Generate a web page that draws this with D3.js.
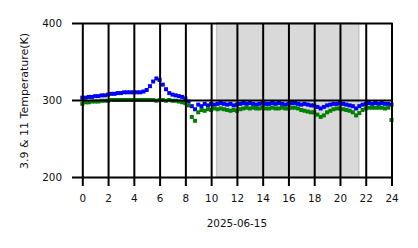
<!DOCTYPE html>
<html>
<head>
<meta charset="utf-8">
<style>
  body { margin: 0; background: #fff; }
  text { font-family: "DejaVu Sans", sans-serif; font-size: 10.4px; fill: #111; }
</style>
<script src="https://cdn.jsdelivr.net/npm/d3@7"></script>
</head>
<body>
<script>
// hours, every 15 minutes
var hours = d3.range(0, 24.001, 0.25);
var blueTemp = [303,303,304,304,305,305,306,306,307,308,308,309,309,310,310,310,
  310,310,310,311,313,318,324,328,326,320,314,309,307,306,305,304,
  302,298,292,288,294,292,295,293,295,294,295,296,295,294,295,293,
  294,295,296,295,296,295,294,295,296,295,295,296,295,296,295,294,
  295,296,296,295,294,295,294,293,293,291,289,291,293,294,295,295,
  296,295,294,293,292,289,292,294,295,296,295,296,295,296,295,295,294];
var greenTemp = [295,297,297,298,298,298,299,299,299,300,300,300,300,300,300,300,
  300,300,300,300,300,300,300,299,300,300,299,300,299,299,298,297,
  296,293,278,273,284,287,286,288,287,289,288,289,288,287,286,287,
  286,288,289,290,289,290,289,289,290,289,289,290,289,289,290,289,
  289,290,290,289,287,286,285,284,284,281,278,280,284,286,288,289,
  289,288,287,286,284,280,283,287,289,290,290,290,290,290,289,290,274];
var shade = [10.43, 21.46];
var xTicks = d3.range(0, 25, 2);
var yTicks = [200, 300, 400];

var W = 418, H = 248;
var x = d3.scaleLinear().domain([0, 24]).range([82.3, 391.5]);
var y = d3.scaleLinear().domain([200, 400]).range([177, 23]);

var svg = d3.select("body").append("svg").attr("width", W).attr("height", H);

svg.append("rect")
  .attr("x", x(shade[0])).attr("y", y(400))
  .attr("width", x(shade[1]) - x(shade[0])).attr("height", y(200) - y(400))
  .attr("fill", "#d9d9d9").attr("stroke", "#c6c6c6").attr("stroke-width", 1.5);

function plotSeries(vals, color) {
  svg.append("g").selectAll("rect")
    .data(vals)
    .enter().append("rect")
    .attr("x", function(d, i) { return x(hours[i]) - 2; })
    .attr("y", function(d) { return y(d) - 2; })
    .attr("width", 4).attr("height", 4)
    .attr("fill", color);
}
plotSeries(blueTemp, "#0000ff");
plotSeries(greenTemp, "#008000");

// grid + ticks drawn on top of data
var xAxis = d3.axisBottom(x).tickValues(xTicks).tickSize(y(200) - y(400) + 9).tickPadding(9);
var gx = svg.append("g").attr("transform", "translate(0," + y(400) + ")").call(xAxis);
var right = x(24) + 1;
var yAxis = d3.axisLeft(y).tickValues(yTicks).tickSize(right - 72).tickPadding(10);
var gy = svg.append("g").attr("transform", "translate(" + right + ",0)").call(yAxis);
svg.selectAll(".domain").remove();
svg.selectAll(".tick line").attr("stroke", "#000").attr("stroke-width", 2);
svg.selectAll(".tick text").style("font-family", "DejaVu Sans").style("font-size", "10.4px").attr("fill", "#111");

svg.append("text").attr("x", (x(0) + x(24)) / 2).attr("y", 227)
  .attr("text-anchor", "middle").text("2025-06-15");
svg.append("text")
  .attr("transform", "translate(27.5,101) rotate(-90)")
  .attr("text-anchor", "middle").style("font-size", "11px")
  .text("3.9 & 11 Temperature(K)");
</script>
</body>
</html>
